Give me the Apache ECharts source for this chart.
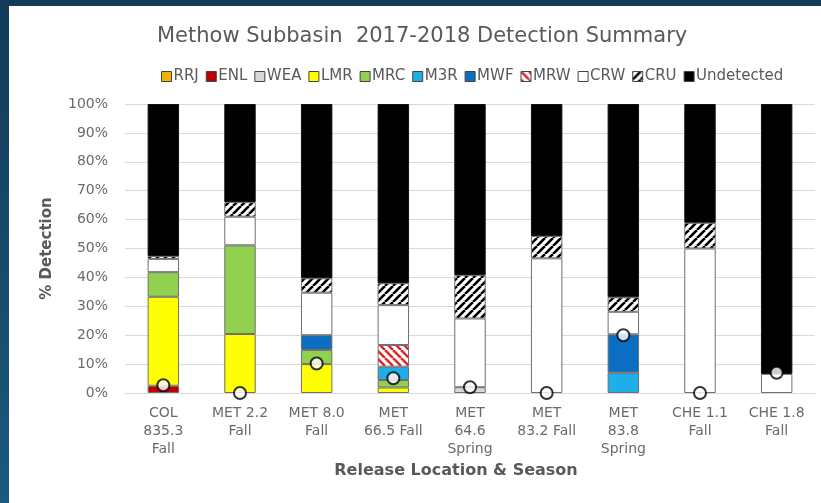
<!DOCTYPE html>
<html>
<head>
<meta charset="utf-8">
<script src="https://cdn.jsdelivr.net/npm/echarts@6/dist/echarts.min.js"></script>
<style>
html,body{margin:0;padding:0;width:821px;height:503px;overflow:hidden;background:linear-gradient(180deg,#123b58,#1a5a7c);}
#chart{position:absolute;left:9px;top:6px;width:812px;height:497px;background:#fff;}
</style>
</head>
<body>
<div id="chart"></div>
<script>
const categories = ["COL\n835.3\nFall","MET 2.2\nFall","MET 8.0\nFall","MET\n66.5 Fall","MET\n64.6\nSpring","MET\n83.2 Fall","MET\n83.8\nSpring","CHE 1.1\nFall","CHE 1.8\nFall"];
const RRJ = [0,0,0,0,0,0,0,0,0];
const ENL = [2.5,0,0,0,0,0,0,0,0];
const WEA = [0,0,0,0,2,0,0,0,0];
const LMR = [30.8,20.4,10,1.9,0,0,0,0,0];
const MRC = [8.5,30.7,4.9,2.6,0,0,0,0,0];
const M3R = [0,0,0,4.6,0,0,7,0,0];
const MWF = [0,0,5.1,0,0,0,13.3,0,0];
const MRW = [0,0,0,7.5,0,0,0,0,0];
const CRW = [4.6,9.9,14.7,13.8,23.8,46.6,7.8,50,6.6];
const CRU = [1.0,5.1,5.0,7.6,15.0,7.7,5.0,8.9,0];
const Undetected = [52.6,33.9,60.3,62,59.2,45.7,66.9,41.1,93.4];
const markerValues = [2.7,0,10.2,5.1,2,0,20,0,7];
const yTicks = [0,10,20,30,40,50,60,70,80,90,100];

const FONT = 'DejaVu Sans, Liberation Sans, Arial';

function stripe(color, dir){
  const c = document.createElement('canvas');
  c.width = 8; c.height = 8;
  const g = c.getContext('2d');
  g.fillStyle = '#fff'; g.fillRect(0,0,8,8);
  g.strokeStyle = color; g.lineWidth = 2.6;
  g.beginPath();
  for (let k=-8;k<=16;k+=8){
    if (dir>0){ g.moveTo(k,8); g.lineTo(k+8,0); }
    else { g.moveTo(k,0); g.lineTo(k+8,8); }
  }
  g.stroke();
  return {image:c, repeat:'repeat'};
}

const seriesDefs = [
  ['RRJ', RRJ, '#F2B400'],
  ['ENL', ENL, '#C00000'],
  ['WEA', WEA, '#D9D9D9'],
  ['LMR', LMR, '#FFFF00'],
  ['MRC', MRC, '#92D050'],
  ['M3R', M3R, '#1EAEE8'],
  ['MWF', MWF, '#0B6EC2'],
  ['MRW', MRW, stripe('#E0262E',-1)],
  ['CRW', CRW, '#FFFFFF'],
  ['CRU', CRU, stripe('#000000',1)],
  ['Undetected', Undetected, '#000000']
];

const series = seriesDefs.map(([name, arr, color]) => ({
  name, type:'bar', stack:'total', barWidth:'41%',
  data: arr.map(v => v === 0 ? '-' : v),
  itemStyle:{color, borderColor: name==='Undetected' ? '#111' : '#6f6f6f', borderWidth:1},
  emphasis:{disabled:true}
}));
series.push({
  name:'marker', type:'scatter', data: markerValues, symbol:'circle', symbolSize:12, z:10,
  itemStyle:{color:'#fff', borderColor:'#000', borderWidth:2}
});

const chart = echarts.init(document.getElementById('chart'));
chart.setOption({
  animation:false,
  title:{text:'Methow Subbasin  2017-2018 Detection Summary', left:148, top:20, padding:0,
    textStyle:{fontFamily:FONT, fontSize:21, fontWeight:'normal', color:'#595959'}},
  legend:{data: seriesDefs.map(d=>d[0]), top:58, left:147, icon:'rect', itemWidth:10, itemHeight:10, itemGap:7,
    itemStyle:{borderColor:'#444', borderWidth:1},
    textStyle:{fontFamily:FONT, fontSize:15, color:'#595959', padding:[0,0,0,-3]}},
  grid:{left:116, right:6, top:98, bottom:110},
  xAxis:{type:'category', data:categories,
    name:'Release Location & Season', nameLocation:'middle', nameGap:66,
    nameTextStyle:{fontFamily:FONT, fontSize:16, fontWeight:'bold', color:'#595959', padding:[0,28,0,0]},
    axisLine:{lineStyle:{color:'#d9d9d9'}}, axisTick:{show:false},
    axisLabel:{fontFamily:FONT, fontSize:14, color:'#6a6a6a', lineHeight:18, margin:11, interval:0}},
  yAxis:{type:'value', min:0, max:100, interval:10,
    name:'% Detection', nameLocation:'middle', nameGap:70,
    nameTextStyle:{fontFamily:FONT, fontSize:15, fontWeight:'bold', color:'#595959'},
    axisLine:{show:false}, axisTick:{show:false},
    splitLine:{lineStyle:{color:'#d9d9d9'}},
    axisLabel:{fontFamily:FONT, fontSize:14, color:'#6a6a6a', margin:17,
      formatter: v => yTicks.includes(v) ? v + '%' : ''}},
  series
});
</script>
</body>
</html>
